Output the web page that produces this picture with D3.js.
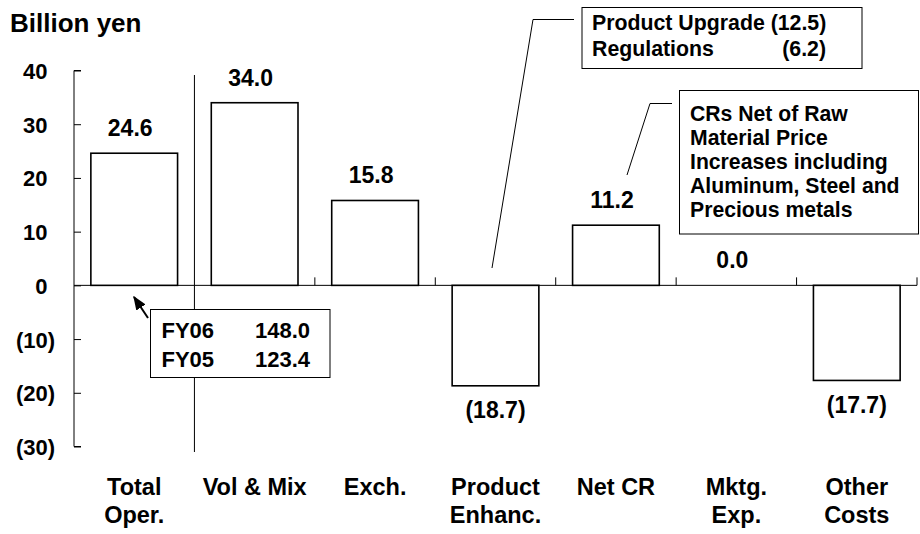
<!DOCTYPE html>
<html>
<head>
<meta charset="utf-8">
<script src="https://cdn.jsdelivr.net/npm/d3@7"></script>
<style>
  html, body { margin: 0; padding: 0; background: #fff; }
  svg { display: block; }
  text { font-family: "Liberation Sans", Arial, sans-serif; font-weight: bold; fill: #000; }
</style>
</head>
<body>
<div id="chart"></div>
<script>
// ---- data ----
const categories = [["Total", "Oper."], ["Vol & Mix"], ["Exch."], ["Product", "Enhanc."], ["Net CR"], ["Mktg.", "Exp."], ["Other", "Costs"]];
const values = [24.6, 34.0, 15.8, -18.7, 11.2, 0.0, -17.7];
const yTicks = [40, 30, 20, 10, 0, -10, -20, -30];
const yTickLabels = ["40", "30", "20", "10", "0", "(10)", "(20)", "(30)"];
const unitLabel = "Billion yen";
const fyRows = [["FY06", "148.0"], ["FY05", "123.4"]];
const upgradeRows = [["Product Upgrade (12.5)", ""], ["Regulations", "(6.2)"]];
const crLines = ["CRs Net of Raw", "Material Price", "Increases including", "Aluminum, Steel and", "Precious metals"];

// ---- layout ----
const W = 920, H = 534;
const svg = d3.select("#chart").append("svg").attr("width", W).attr("height", H);

const x = d3.scaleBand().domain(d3.range(categories.length)).range([74, 917]).paddingInner(0.28).paddingOuter(0.14);
const y = d3.scaleLinear().domain([-30, 40]).range([446.5, 70.5]);
const step = x.step();

const fmt = v => v < 0 ? "(" + Math.abs(v).toFixed(1) + ")" : v.toFixed(1);

// title
svg.append("text").attr("x", 10).attr("y", 32).attr("font-size", 26).text(unitLabel);

// y axis
const yAxis = d3.axisRight(y).tickValues(yTicks).tickSize(7).tickFormat("");
const gy = svg.append("g").attr("transform", "translate(74,0)").call(yAxis);
gy.select(".domain").attr("stroke", "#000").attr("d", `M7,${y(40)}H0V${y(-30)}H7`);
gy.selectAll(".tick line").attr("stroke", "#000");

// y tick labels (accounting style: positives padded by width of ")")
svg.append("g").selectAll("text").data(yTicks).join("text")
  .attr("x", d => d < 0 ? 55 : 47.5)
  .attr("y", d => y(d) + 8.5)
  .attr("text-anchor", "end")
  .attr("font-size", 22)
  .text((d, i) => yTickLabels[i]);

// x axis line at zero with upward ticks at band boundaries
const boundaries = d3.range(2, categories.length + 1).map(i => 74 + i * step);
svg.append("line").attr("x1", 74).attr("x2", 917).attr("y1", y(0)).attr("y2", y(0)).attr("stroke", "#000").attr("stroke-width", 1);
svg.append("g").selectAll("line").data(boundaries).join("line")
  .attr("x1", d => d).attr("x2", d => d)
  .attr("y1", y(0)).attr("y2", y(0) - 8)
  .attr("stroke", "#000");

// separator line after Total
svg.append("line").attr("x1", 74 + step).attr("x2", 74 + step).attr("y1", 75).attr("y2", 452).attr("stroke", "#000").attr("stroke-width", 1);

// bars
svg.append("g").selectAll("rect").data(values).join("rect")
  .attr("x", (d, i) => x(i))
  .attr("width", x.bandwidth())
  .attr("y", d => y(Math.max(0, d)))
  .attr("height", d => Math.abs(y(d) - y(0)))
  .attr("fill", "#fff").attr("stroke", "#000").attr("stroke-width", 1.6);

// value labels
svg.append("g").selectAll("text").data(values).join("text")
  .attr("x", (d, i) => x(i) + x.bandwidth() / 2 - (d < 0 ? 0 : 4))
  .attr("y", d => d < 0 ? y(d) + 32.5 : y(d) - 17)
  .attr("text-anchor", "middle")
  .attr("font-size", 23)
  .text(d => fmt(d));

// category labels
const cg = svg.append("g").selectAll("text").data(categories).join("text")
  .attr("text-anchor", "middle")
  .attr("font-size", 23.5);
cg.selectAll("tspan").data((d, i) => d.map(t => ({t, i}))).join("tspan")
  .attr("x", d => x(d.i) + x.bandwidth() / 2)
  .attr("y", (d, j) => 495 + j * 28)
  .text(d => d.t);

// ---- annotations ----
// FY box
svg.append("defs").append("marker").attr("id", "arr").attr("viewBox", "0 0 10 10")
  .attr("refX", 9).attr("refY", 5).attr("markerWidth", 7).attr("markerHeight", 7).attr("orient", "auto")
  .append("path").attr("d", "M0,1L10,5L0,9Z").attr("fill", "#000");
svg.append("line").attr("x1", 148).attr("y1", 318).attr("x2", 134).attr("y2", 297)
  .attr("stroke", "#000").attr("stroke-width", 2).attr("marker-end", "url(#arr)");
svg.append("rect").attr("x", 150.5).attr("y", 309.5).attr("width", 179.5).attr("height", 68)
  .attr("fill", "#fff").attr("stroke", "#000").attr("stroke-width", 1);
fyRows.forEach((r, i) => {
  svg.append("text").attr("x", 161.5).attr("y", 338 + i * 28.5).attr("font-size", 22).text(r[0]);
  svg.append("text").attr("x", 310).attr("y", 338 + i * 28.5).attr("font-size", 22).attr("text-anchor", "end").text(r[1]);
});

// Product upgrade box
svg.append("path").attr("d", "M574,19.5H533L492,268").attr("fill", "none").attr("stroke", "#000").attr("stroke-width", 1);
svg.append("rect").attr("x", 582).attr("y", 7.5).attr("width", 280).attr("height", 61)
  .attr("fill", "#fff").attr("stroke", "#000").attr("stroke-width", 1);
upgradeRows.forEach((r, i) => {
  svg.append("text").attr("x", 592).attr("y", 30 + i * 26).attr("font-size", 21.3).text(r[0]);
  if (r[1]) svg.append("text").attr("x", 826).attr("y", 30 + i * 26).attr("font-size", 21.3).attr("text-anchor", "end").text(r[1]);
});

// CR box
svg.append("path").attr("d", "M672,103.5H650L627,175").attr("fill", "none").attr("stroke", "#000").attr("stroke-width", 1);
svg.append("rect").attr("x", 679.5).attr("y", 90.5).attr("width", 239).attr("height", 143.5)
  .attr("fill", "#fff").attr("stroke", "#000").attr("stroke-width", 1);
crLines.forEach((t, i) => {
  svg.append("text").attr("x", 690).attr("y", 120.5 + i * 24.1).attr("font-size", 21.2).text(t);
});
</script>
</body>
</html>
